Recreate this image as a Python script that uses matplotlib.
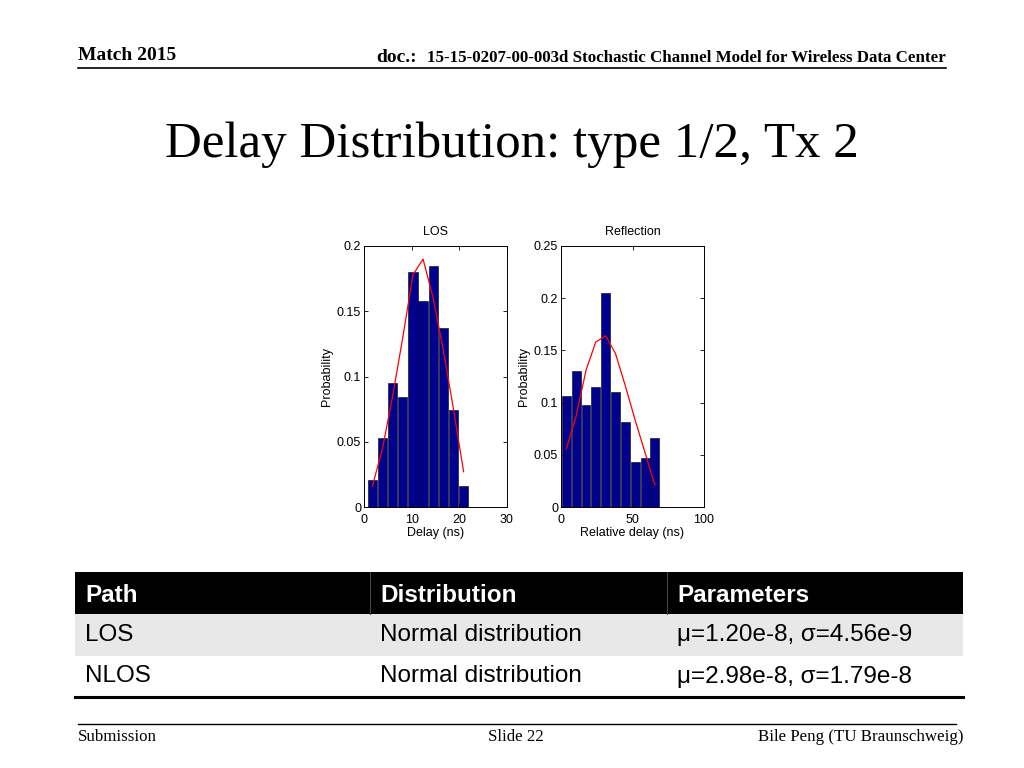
import matplotlib
matplotlib.use("Agg")
import matplotlib.pyplot as plt
from matplotlib.patches import Rectangle
from matplotlib.lines import Line2D

# ---------------- data ----------------
los_centers = [1.76, 3.89, 6.01, 8.14, 10.27, 12.39, 14.52, 16.65, 18.77, 20.90]
los_prob = [0.021, 0.053, 0.095, 0.084, 0.180, 0.158, 0.185, 0.137, 0.074, 0.016]
los_fit = [0.016, 0.045, 0.085, 0.130, 0.178, 0.190, 0.160, 0.120, 0.075, 0.027]

ref_centers = [3.7, 10.6, 17.5, 24.3, 31.2, 38.1, 45.0, 51.9, 58.8, 65.6]
ref_prob = [0.1065, 0.1307, 0.098, 0.115, 0.2047, 0.110, 0.0816, 0.0434, 0.0466, 0.066]
ref_fit = [0.0555, 0.087, 0.131, 0.158, 0.164, 0.147, 0.116, 0.083, 0.052, 0.021]

table_header = ["Path", "Distribution", "Parameters"]
table_rows = [["LOS", "Normal distribution", "\u03bc=1.20e-8, \u03c3=4.56e-9"],
              ["NLOS", "Normal distribution", "\u03bc=2.98e-8, \u03c3=1.79e-8"]]

W, H = 1024, 768
fig = plt.figure(figsize=(10.24, 7.68), dpi=100)

def fx(x):
    return x / W

def fy(y):
    return 1 - y / H

serif = "Liberation Serif"
sans = "Liberation Sans"

# header
fig.text(fx(78), fy(55), "Match 2015", family=serif, fontweight="bold", fontsize=14, va="center", ha="left")
fig.text(fx(946), fy(58), "15-15-0207-00-003d Stochastic Channel Model for Wireless Data Center",
         family=serif, fontweight="bold", fontsize=12.2, va="center", ha="right")
fig.text(fx(376), fy(57), "doc.:", family=serif, fontweight="bold", fontsize=14, va="center", ha="left")
fig.add_artist(Line2D([fx(78), fx(946)], [fy(68), fy(68)], color="black", lw=1.2))

# title
fig.text(fx(512), fy(145), "Delay Distribution: type 1/2, Tx 2", family=serif, fontsize=36.7,
         ha="center", va="center")

FS = 9

# charts
def make_ax(left_px, centers, probs, fit, xmax, ymax, yticks, yticklabels, xticks, title, xlabel):
    ax = fig.add_axes([fx(left_px), fy(507), fx(143), (507 - 246) / H])
    pitch = centers[1] - centers[0]
    ax.bar(centers, probs, width=pitch * 0.9, color="#00008F", edgecolor="black", linewidth=0.4)
    ax.plot(centers, fit, color="red", lw=0.9)
    ax.set_xlim(0, xmax)
    ax.set_ylim(0, ymax)
    ax.set_yticks(yticks)
    ax.set_yticklabels(yticklabels)
    ax.set_xticks(xticks)
    ax.set_xticklabels([str(t) for t in xticks])
    ax.tick_params(direction="in", top=True, right=True, length=3, width=0.6, labelsize=FS)
    ax.tick_params(axis="x", pad=5)
    ax.tick_params(axis="y", pad=2)
    for lab in ax.get_xticklabels() + ax.get_yticklabels():
        lab.set_family(sans)
    for s in ax.spines.values():
        s.set_linewidth(0.7)
    ax.set_title(title, family=sans, fontsize=FS, pad=8)
    ax.set_xlabel(xlabel, family=sans, fontsize=FS, labelpad=0.5)
    ax.set_ylabel("Probability", family=sans, fontsize=FS, labelpad=3)
    return ax

make_ax(364, los_centers, los_prob, los_fit, 30, 0.2,
        [0, 0.05, 0.1, 0.15, 0.2], ["0", "0.05", "0.1", "0.15", "0.2"],
        [0, 10, 20, 30], "LOS", "Delay (ns)")
make_ax(561, ref_centers, ref_prob, ref_fit, 100, 0.25,
        [0, 0.05, 0.1, 0.15, 0.2, 0.25], ["0", "0.05", "0.1", "0.15", "0.2", "0.25"],
        [0, 50, 100], "Reflection", "Relative delay (ns)")

# table
tx0, tx1 = 75, 963
col_x = [75, 370, 667]
row_y = [572, 614, 656, 697]
fig.add_artist(Rectangle((fx(tx0), fy(row_y[1])), fx(tx1 - tx0), (row_y[1] - row_y[0]) / H,
                         facecolor="black", edgecolor="none", transform=fig.transFigure))
fig.add_artist(Rectangle((fx(tx0), fy(row_y[2])), fx(tx1 - tx0), (row_y[2] - row_y[1]) / H,
                         facecolor="#e8e8e8", edgecolor="none", transform=fig.transFigure))
for cx in col_x[1:]:
    fig.add_artist(Line2D([fx(cx), fx(cx)], [fy(row_y[0]), fy(row_y[1])], color="#444444", lw=0.8))
fig.add_artist(Line2D([fx(tx0), fx(tx1)], [fy(row_y[3]), fy(row_y[3])], color="black", lw=2.2))
for i, h in enumerate(table_header):
    fig.text(fx(col_x[i] + 10), fy((row_y[0] + row_y[1]) / 2 + 2), h, family=sans, fontweight="bold",
             fontsize=17.5, color="white", va="center", ha="left")
for r, row in enumerate(table_rows):
    yc = (row_y[r + 1] + row_y[r + 2]) / 2
    for i, cell in enumerate(row):
        fig.text(fx(col_x[i] + 10), fy(yc), cell, family=sans, fontsize=17.5, color="black",
                 va="center", ha="left")

# footer
fig.add_artist(Line2D([fx(78), fx(956)], [fy(724), fy(724)], color="black", lw=1.0))
fig.text(fx(78), fy(737), "Submission", family=serif, fontsize=12.2, va="center", ha="left")
fig.text(fx(516), fy(737), "Slide 22", family=serif, fontsize=12.2, va="center", ha="center")
fig.text(fx(963), fy(737), "Bile Peng (TU Braunschweig)", family=serif, fontsize=12.2, va="center", ha="right")

fig.savefig("out.png", dpi=100)
